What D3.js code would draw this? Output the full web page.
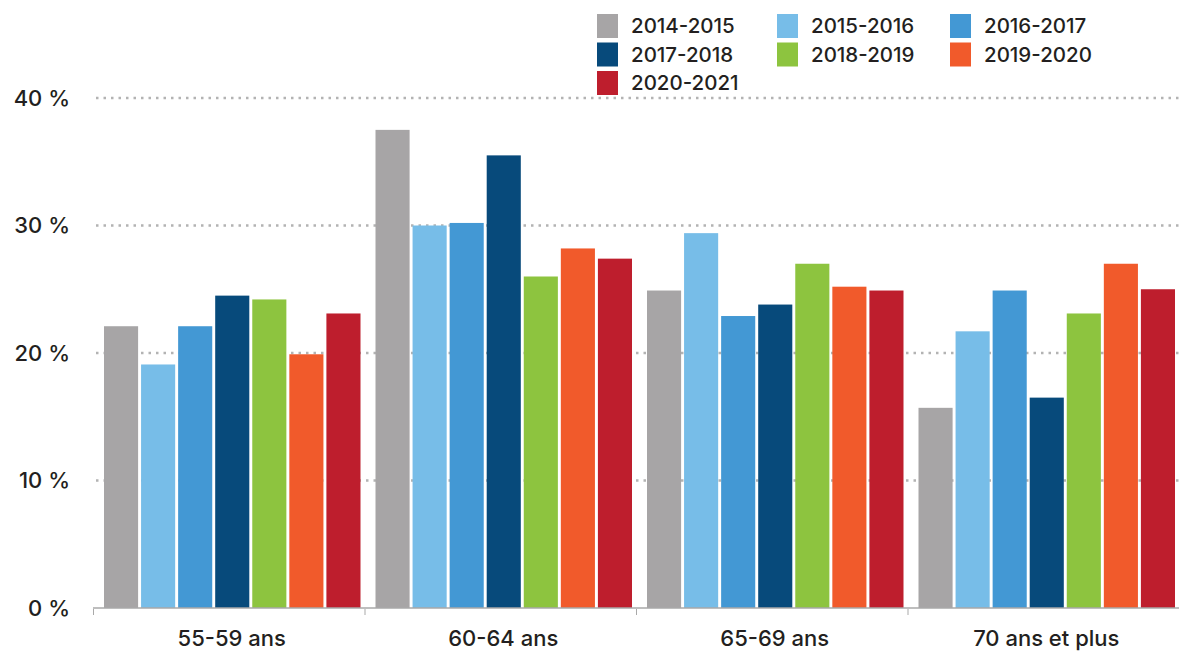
<!DOCTYPE html>
<html>
<head>
<meta charset="utf-8">
<script src="https://cdn.jsdelivr.net/npm/d3@7"></script>
<style>
    body { margin: 0; background: #fff; }
    svg text { font-family: Inter, "Open Sans", sans-serif; fill: #231f20; font-weight: 500; }
</style>
</head>
<body>
<div id="chart"></div>
<script>
const width = 1179;
const height = 651;

// données
const groups = ["55-59 ans", "60-64 ans", "65-69 ans", "70 ans et plus"];
const years = ["2014-2015", "2015-2016", "2016-2017", "2017-2018", "2018-2019", "2019-2020", "2020-2021"];
const colors = ["#a7a5a6", "#77bde8", "#4398d4", "#074a7b", "#8dc43f", "#f15a2b", "#be1e2d"];
const v5559 = [22.1, 19.1, 22.1, 24.5, 24.2, 19.9, 23.1];
const v6064 = [37.5, 30.0, 30.2, 35.5, 26.0, 28.2, 27.4];
const v6569 = [24.9, 29.4, 22.9, 23.8, 27.0, 25.2, 24.9];
const v70 = [15.7, 21.7, 24.9, 16.5, 23.1, 27.0, 25.0];
const yTicks = [0, 10, 20, 30, 40];

const values = [v5559, v6064, v6569, v70];

const svg = d3.select('#chart').append('svg')
    .attr('width', width)
    .attr('height', height);

const y = d3.scaleLinear().domain([0, 40]).range([608, 98]);
const x0 = d3.scaleBand().domain(groups).range([93, 1179]);
const x1 = d3.scaleBand().domain(years).range([11, x0.bandwidth() - 4]).paddingInner(0.08);

// grille pointillée
svg.append('g').selectAll('line')
    .data(yTicks.filter(d => d > 0))
    .enter().append('line')
    .attr('x1', 96).attr('x2', width)
    .attr('y1', d => y(d)).attr('y2', d => y(d))
    .attr('stroke', '#b3b3b3')
    .attr('stroke-width', 2.5)
    .attr('stroke-dasharray', '2.5 5');

// étiquettes axe y
svg.append('g').selectAll('text')
    .data(yTicks)
    .enter().append('text')
    .attr('x', 70)
    .attr('y', d => y(d))
    .attr('dy', '0.36em')
    .attr('text-anchor', 'end')
    .style('font-size', '22px')
    .text(d => d + ' %');

// barres
const g = svg.append('g').selectAll('g')
    .data(groups)
    .enter().append('g')
    .attr('transform', d => `translate(${x0(d)},0)`);

g.selectAll('rect')
    .data((d, i) => values[i].map((v, j) => ({year: years[j], value: v, color: colors[j]})))
    .enter().append('rect')
    .attr('x', d => x1(d.year))
    .attr('width', x1.bandwidth())
    .attr('y', d => y(d.value))
    .attr('height', d => y(0) - y(d.value))
    .attr('fill', d => d.color);

// axe x
svg.append('line')
    .attr('x1', 93).attr('x2', width)
    .attr('y1', 608).attr('y2', 608)
    .attr('stroke', '#a9a9a9')
    .attr('stroke-width', 1.5);

svg.append('g').selectAll('line')
    .data(groups)
    .enter().append('line')
    .attr('x1', d => x0(d) + 0.5).attr('x2', d => x0(d) + 0.5)
    .attr('y1', 609).attr('y2', 615)
    .attr('stroke', '#a9a9a9')
    .attr('stroke-width', 1);

svg.append('g').selectAll('text')
    .data(groups)
    .enter().append('text')
    .attr('x', d => x0(d) + x0.bandwidth() / 2 + 3)
    .attr('y', 646)
    .attr('text-anchor', 'middle')
    .style('font-size', '22px')
    .text(d => d);

// légende
const legend = svg.append('g').selectAll('g')
    .data(years)
    .enter().append('g')
    .attr('transform', (d, i) => `translate(${[597, 777, 950][i % 3]},${14 + Math.floor(i / 3) * 28.5})`);

legend.append('rect')
    .attr('width', 21).attr('height', 24)
    .attr('fill', (d, i) => colors[i]);

legend.append('text')
    .attr('x', 34)
    .attr('y', 12)
    .attr('dy', '0.36em')
    .style('font-size', '20.5px')
    .text(d => d);
</script>
</body>
</html>
